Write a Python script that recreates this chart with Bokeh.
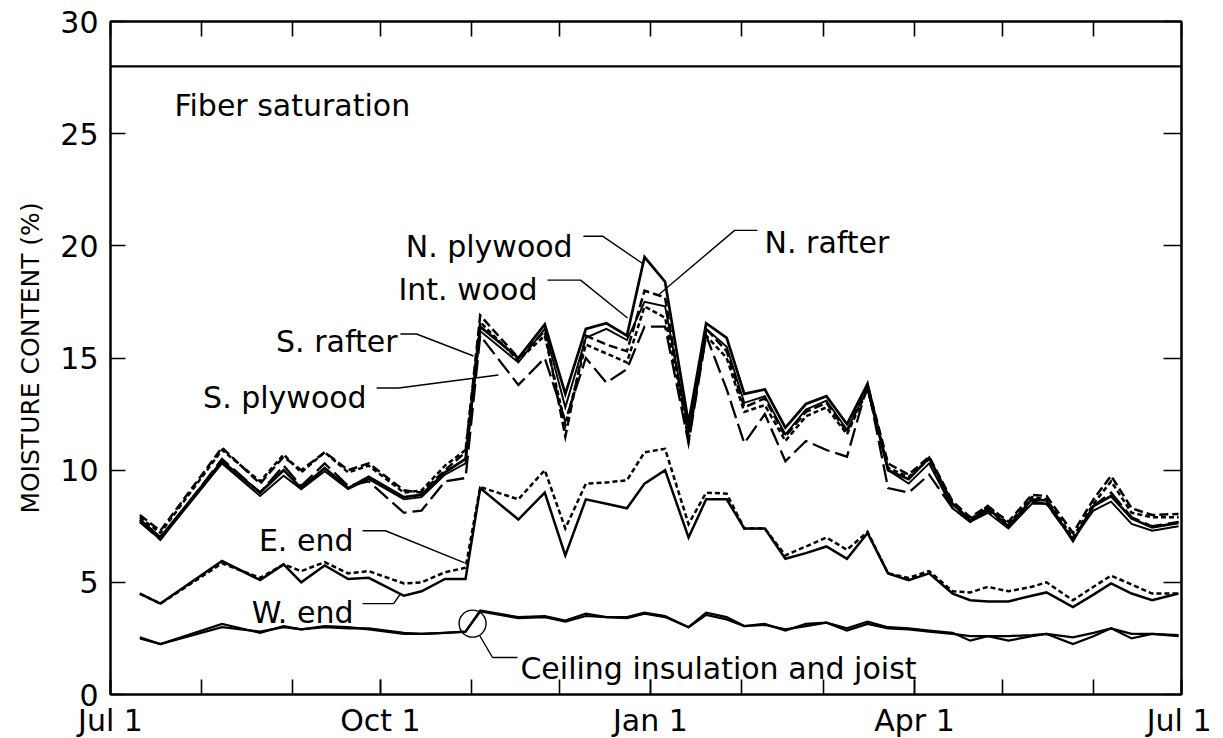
import pandas as pd
from bokeh.plotting import figure
from bokeh.models import Range1d, LinearAxis, FixedTicker, Span
from bokeh.embed import file_html
from bokeh.resources import INLINE
from bokeh.core.properties import value

# ---------------- data ----------------
start_date = "1990-07-01"
end_date = "1991-07-01"
dates = ["1990-07-11", "1990-07-18", "1990-08-08", "1990-08-21", "1990-08-29",
         "1990-09-04", "1990-09-12", "1990-09-20", "1990-09-27", "1990-10-09",
         "1990-10-15", "1990-10-23", "1990-10-30", "1990-11-04", "1990-11-17",
         "1990-11-26", "1990-12-03", "1990-12-10", "1990-12-17", "1990-12-24",
         "1990-12-30", "1991-01-06", "1991-01-14", "1991-01-20", "1991-01-27",
         "1991-02-02", "1991-02-09", "1991-02-16", "1991-02-23", "1991-03-02",
         "1991-03-09", "1991-03-16", "1991-03-23", "1991-03-30", "1991-04-06",
         "1991-04-14", "1991-04-20", "1991-04-26", "1991-05-03", "1991-05-11",
         "1991-05-16", "1991-05-25", "1991-06-01", "1991-06-07", "1991-06-14",
         "1991-06-21", "1991-06-30"]

n_plywood = [7.8, 7.0, 10.4, 9.0, 10.0, 9.2, 10.1, 9.2, 9.7, 8.8, 8.9, 9.9, 10.5,
             16.4, 15.0, 16.5, 13.4, 16.3, 16.55, 16.0, 19.5, 18.4,
             12.1, 16.55, 15.9, 13.4, 13.6, 11.9, 12.95, 13.3, 12.05, 13.85, 10.0, 9.6, 10.55,
             8.5, 7.75, 8.3, 7.5, 8.7, 8.65, 6.85, 8.4, 8.85, 7.85, 7.45, 7.65]
int_wood = [7.7, 6.9, 10.3, 8.85, 9.75, 9.15, 9.95, 9.15, 9.6, 8.7, 8.8, 9.8, 10.3,
            16.2, 14.8, 16.3, 12.8, 15.9, 16.3, 15.8, 17.5, 17.3,
            11.8, 16.3, 15.5, 13.0, 13.3, 11.6, 12.7, 13.1, 11.8, 13.6, 10.0, 9.4, 10.3,
            8.3, 7.7, 8.1, 7.4, 8.5, 8.5, 6.9, 8.2, 8.6, 7.6, 7.3, 7.5]
n_rafter = [8.0, 7.3, 11.0, 9.4, 10.6, 10.0, 10.8, 10.0, 10.3, 9.1, 9.0, 10.0, 10.8,
            16.9, 15.0, 16.2, 11.5, 16.0, 15.6, 15.3, 18.0, 17.7,
            11.3, 16.3, 15.3, 12.8, 13.2, 11.5, 12.6, 13.0, 11.7, 13.8, 10.3, 9.8, 10.6,
            8.6, 7.9, 8.4, 7.7, 8.9, 8.85, 7.2, 8.7, 9.75, 8.3, 8.0, 8.05]
s_rafter = [7.9, 7.2, 10.9, 9.5, 10.7, 9.9, 10.8, 9.9, 10.2, 9.0, 9.1, 10.2, 10.9,
            16.6, 14.9, 16.0, 12.0, 15.6, 15.2, 14.8, 17.3, 16.8,
            11.6, 16.0, 15.0, 12.6, 12.9, 11.3, 12.4, 12.8, 11.6, 13.6, 10.1, 9.7, 10.5,
            8.5, 7.8, 8.4, 7.6, 8.8, 8.7, 7.0, 8.5, 9.5, 8.1, 7.9, 7.9]
s_plywood = [7.7, 6.9, 10.5, 9.0, 10.2, 9.3, 10.3, 9.3, 9.5, 8.1, 8.2, 9.5, 9.65,
             16.0, 13.8, 15.0, 12.2, 15.0, 13.9, 14.5, 16.4, 16.4,
             11.2, 16.0, 13.6, 11.2, 12.5, 10.4, 11.3, 10.9, 10.6, 13.8, 9.2, 9.0, 9.8,
             8.3, 7.7, 8.2, 7.5, 8.6, 8.5, 6.9, 8.4, 9.0, 7.9, 7.5, 7.7]
e_end = [4.5, 4.05, 5.85, 5.2, 5.8, 5.5, 5.9, 5.4, 5.5, 4.95, 5.0, 5.45, 5.65,
         9.25, 8.7, 10.0, 7.4, 9.4, 9.45, 9.55, 10.8, 10.95,
         7.6, 9.0, 8.95, 7.4, 7.4, 6.2, 6.6, 7.0, 6.45, 7.25, 5.4, 5.2, 5.5,
         4.6, 4.55, 4.8, 4.6, 4.8, 5.0, 4.2, 4.8, 5.3, 4.9, 4.5, 4.5]
w_end = [4.5, 4.05, 5.95, 5.1, 5.8, 5.0, 5.75, 5.15, 5.2, 4.4, 4.6, 5.15, 5.15,
         9.2, 7.8, 9.0, 6.2, 8.7, 8.5, 8.3, 9.4, 10.0,
         7.0, 8.7, 8.7, 7.4, 7.4, 6.05, 6.3, 6.6, 6.05, 7.2, 5.4, 5.1, 5.4,
         4.5, 4.2, 4.15, 4.15, 4.4, 4.55, 3.9, 4.45, 4.95, 4.5, 4.2, 4.5]
ceiling_insulation = [2.55, 2.25, 3.15, 2.75, 3.05, 2.9, 3.05, 3.0, 2.9, 2.7, 2.7, 2.75, 2.8,
                      3.75, 3.45, 3.5, 3.3, 3.6, 3.45, 3.45, 3.65, 3.5,
                      3.0, 3.65, 3.45, 3.05, 3.15, 2.85, 3.15, 3.2, 2.95, 3.25, 3.0, 2.95, 2.85,
                      2.75, 2.4, 2.6, 2.4, 2.6, 2.7, 2.25, 2.6, 2.95, 2.5, 2.7, 2.6]
joist = [2.5, 2.25, 3.0, 2.8, 3.0, 2.9, 3.0, 2.95, 2.95, 2.75, 2.7, 2.75, 2.8,
         3.7, 3.4, 3.45, 3.25, 3.5, 3.45, 3.4, 3.6, 3.45,
         3.0, 3.55, 3.35, 3.05, 3.1, 2.9, 3.05, 3.2, 2.85, 3.15, 2.95, 2.9, 2.8,
         2.7, 2.6, 2.6, 2.6, 2.65, 2.7, 2.55, 2.75, 2.95, 2.7, 2.7, 2.65]
fiber_saturation = 28.0

y_ticks = [0, 5, 10, 15, 20, 25, 30]
x_tick_labels = {"1990-07-01": "Jul 1", "1990-10-01": "Oct 1", "1991-01-01": "Jan 1",
                 "1991-04-01": "Apr 1", "1991-07-01": "Jul 1"}

# ---------------- helpers ----------------
t0 = pd.Timestamp(start_date)
def day(d):
    return (pd.Timestamp(d) - t0).days

x = [day(d) for d in dates]
x_end = day(end_date)
month_days = [day(d) for d in pd.date_range(start_date, end_date, freq="MS")]
label_days = [day(d) for d in x_tick_labels]
overrides = {day(d): lab for d, lab in x_tick_labels.items()}

FONT = "DejaVu Sans"

p = figure(frame_width=1071, frame_height=673,
           x_range=Range1d(0, x_end), y_range=Range1d(0, 30),
           output_backend="svg", toolbar_location=None,
           min_border_left=110, min_border_right=30,
           min_border_top=21, min_border_bottom=40)
p.xgrid.visible = False
p.ygrid.visible = False
p.outline_line_color = "black"
p.outline_line_width = 2
p.background_fill_color = "white"
p.border_fill_color = "white"

def style_axis(ax, tick_in):
    ax.axis_line_color = "black"
    ax.axis_line_width = 2
    ax.major_tick_in = tick_in
    ax.major_tick_out = 0
    ax.major_tick_line_width = 1.6
    ax.major_tick_line_color = "black"
    ax.minor_tick_in = tick_in
    ax.minor_tick_out = 0
    ax.minor_tick_line_width = 1.6
    ax.minor_tick_line_color = "black"
    ax.major_label_text_font = FONT
    ax.major_label_text_color = "black"
    ax.major_label_text_font_size = "30px"

# bottom axis: labelled ticks as major, all month starts as minor
xa = p.xaxis[0]
xa.ticker = FixedTicker(ticks=label_days, minor_ticks=month_days)
xa.major_label_overrides = overrides
style_axis(xa, 15)
xa.major_label_standoff = 8

# left axis
ya = p.yaxis[0]
ya.ticker = FixedTicker(ticks=y_ticks, minor_ticks=[])
style_axis(ya, 15)
ya.major_label_standoff = 12
ya.axis_label = "MOISTURE CONTENT (%)"
ya.axis_label_text_font = FONT
ya.axis_label_text_font_size = "25px"
ya.axis_label_text_font_style = "normal"
ya.axis_label_text_color = "black"
ya.axis_label_standoff = 12

# top and right mirrored axes: ticks only (as minor ticks, so no labels)
top_ax = LinearAxis(ticker=FixedTicker(ticks=[], minor_ticks=month_days))
style_axis(top_ax, 15)
p.add_layout(top_ax, "above")
right_ax = LinearAxis(ticker=FixedTicker(ticks=[], minor_ticks=y_ticks))
style_axis(right_ax, 18)
p.add_layout(right_ax, "right")

# fiber saturation line
p.add_layout(Span(location=fiber_saturation, dimension="width",
                  line_color="black", line_width=2.2))

# series
series = [
    (s_plywood, "18 6", 2.3),
    (s_rafter, "5 3", 2.5),
    (n_rafter, "9 4", 2.5),
    (int_wood, None, 1.9),
    (n_plywood, None, 2.7),
    (e_end, "5 3", 2.5),
    (w_end, None, 2.5),
    (joist, None, 2.2),
    (ceiling_insulation, None, 2.2),
]
for ys, dash, w in series:
    kw = dict(line_color="black", line_width=w, line_join="miter")
    if dash:
        kw["line_dash"] = dash
    p.line(x, ys, **kw)

# ---------------- annotations ----------------
lab_size = "30px"
labels_right = [  # (text, x day, baseline value)
    ("N. plywood", 157.5, 19.98),
    ("Int. wood", 145.5, 18.07),
    ("S. rafter", 97.8, 15.75),
    ("S. plywood", 87.3, 13.22),
    ("E. end", 82.8, 6.85),
    ("W. end", 82.8, 3.65),
]
labels_left = [
    ("Fiber saturation", 21.8, 26.26),
    ("N. rafter", 222.9, 20.16),
    ("Ceiling insulation and joist", 139.7, 1.16),
]
for items, align in ((labels_right, "right"), (labels_left, "left")):
    p.text(x=[t[1] for t in items], y=[t[2] for t in items], text=[t[0] for t in items],
           text_font=value(FONT), text_font_size=lab_size, text_color="black",
           text_align=align, text_baseline="alphabetic")

leaders = [
    ([161.2, 167.7, 181.7], [20.43, 20.43, 19.18]),   # N. plywood
    ([148.9, 160.2, 176.2], [18.47, 18.47, 16.78]),   # Int. wood
    ([98.8, 104.3, 123.7], [16.07, 16.07, 15.09]),    # S. rafter
    ([90.7, 98.2, 132.2], [13.66, 13.66, 14.24]),     # S. plywood
    ([220.5, 212.7, 187.1], [20.69, 20.69, 17.85]),   # N. rafter
    ([85.9, 93.7, 120.7], [7.3, 7.3, 5.87]),          # E. end
    ([85.9, 96.5, 98.8], [4.05, 4.05, 4.49]),         # W. end
    ([125.8, 130.2, 138.7], [2.63, 1.65, 1.65]),      # ceiling
]
p.multi_line(xs=[l[0] for l in leaders], ys=[l[1] for l in leaders],
             line_color="black", line_width=1.4)

p.scatter([123.4], [3.16], marker="circle", size=27, fill_color=None,
          line_color="black", line_width=1.4)

open("out.html", "w").write(file_html(p, INLINE))
